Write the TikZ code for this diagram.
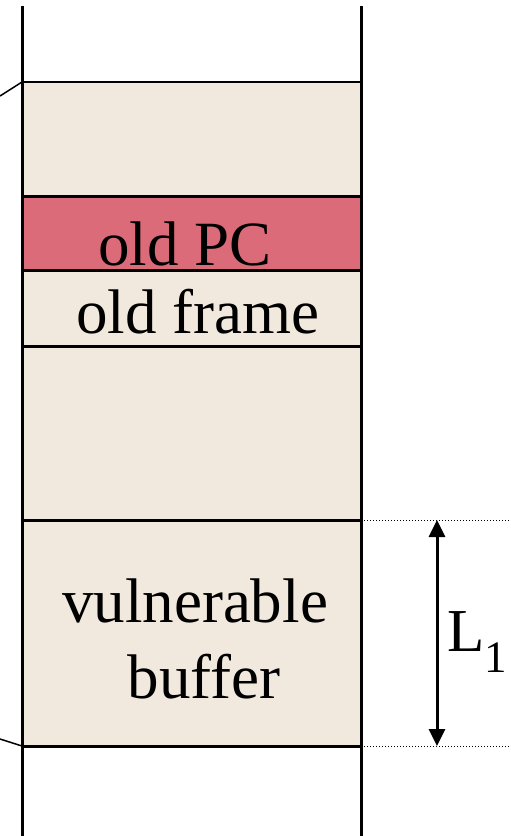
\documentclass[tikz,border=0pt]{standalone}
\usepackage{fontspec}
\setmainfont{Liberation Serif}
\usetikzlibrary{arrows.meta}
\definecolor{cellbg}{HTML}{F1E9DD}
\definecolor{pccell}{HTML}{DB6B78}
\begin{document}
\begin{tikzpicture}[x=1pt,y=-1pt,
  lbl/.style={anchor=base,inner sep=0pt,font=\fontsize{63}{63}\selectfont},
  wall/.style={line width=3pt},
  sep/.style={line width=3pt},
  guide/.style={line width=1pt,dash pattern=on 1pt off 2pt},
  lead/.style={line width=1.5pt},
  dim/.style={line width=3pt,{Triangle[length=17pt,width=16pt]}-{Triangle[length=17pt,width=16pt]}}]
\useasboundingbox (0,0) rectangle (511,836);
% stack cells
\fill[cellbg] (22,82) rectangle (361,746);
\fill[pccell] (22,196) rectangle (361,270);
% cell boundaries
\draw[line width=2pt] (22,82) -- (361,82);
\foreach \yy in {196,270,346,520,746} \draw[sep] (22,\yy) -- (361,\yy);
% stack walls
\draw[wall] (22,6) -- (22,836);
\draw[wall] (361,6) -- (361,836);
% frame leaders on the left
\draw[lead] (0,96) -- (22,82);
\draw[lead] (0,739) -- (22,746);
% labels
\node[lbl] (pc) at (185,265) {old PC};
\node[lbl] (frame) at (198,333) {old frame};
\node[lbl] (vuln) at (195,622) {vulnerable};
\node[lbl] (buf) at (204,698) {buffer};
% buffer length dimension
\coordinate (btop) at (437,520);
\coordinate (bbot) at (437,746);
\draw[guide] (361,520) -- (511,520);
\draw[guide] (361,746) -- (511,746);
\draw[dim] (btop) -- (bbot);
\node[anchor=base west,inner sep=0pt,font=\fontsize{61}{61}\selectfont] (len) at (447,651)
  {L\raisebox{-21pt}{\fontsize{45}{45}\selectfont 1}};
\end{tikzpicture}
\end{document}
